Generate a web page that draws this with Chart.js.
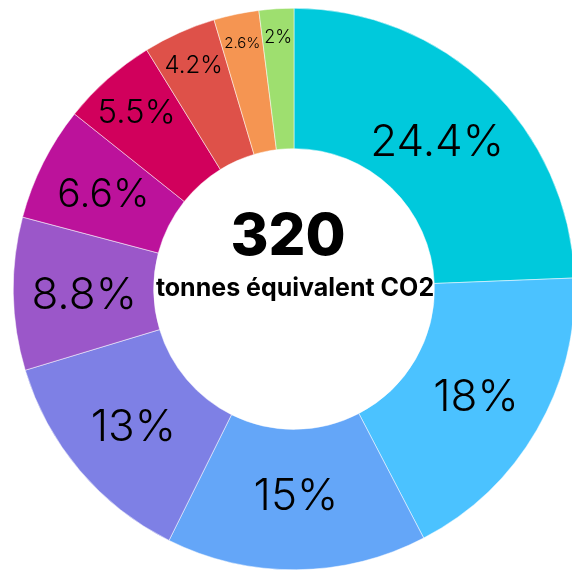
<!DOCTYPE html>
<html>
<head>
<meta charset="utf-8">
<script src="https://cdn.jsdelivr.net/npm/chart.js@4.4.0/dist/chart.umd.min.js"></script>
<style>
  html, body { margin: 0; padding: 0; background: #fff; overflow: hidden; }
  #wrap { position: absolute; left: 13px; top: 8px; width: 562px; height: 562px; }
</style>
</head>
<body>
<div id="wrap"><canvas id="chart"></canvas></div>
<script>
const categories = ['Poste 1', 'Poste 2', 'Poste 3', 'Poste 4', 'Poste 5',
                    'Poste 6', 'Poste 7', 'Poste 8', 'Poste 9', 'Poste 10'];
const shares = [24.4, 18, 15, 13, 8.8, 6.6, 5.5, 4.2, 2.6, 2];
const colors = ['#00c9dc', '#4bc2ff', '#64a6f8', '#7e80e5', '#9b57c9',
                '#bc129b', '#d1005c', '#de5149', '#f59552', '#9edf6f'];
const totalTonnes = '320';
const totalUnit = 'tonnes équivalent CO2';

const FONT = 'Inter, "Open Sans", sans-serif';
const MAX_LABEL = 44;

// percentage inside each slice: about as wide as the slice at mid ring,
// pushed outward when the box does not fit there
const sliceLabels = {
  id: 'sliceLabels',
  afterDatasetsDraw(chart) {
    const ctx = chart.ctx;
    const meta = chart.getDatasetMeta(0);
    ctx.save();
    ctx.fillStyle = '#000';
    ctx.textAlign = 'center';
    ctx.textBaseline = 'alphabetic';
    meta.data.forEach((arc, i) => {
      const p = arc.getProps(['x', 'y', 'startAngle', 'endAngle', 'innerRadius', 'outerRadius'], true);
      const text = shares[i] + '%';
      const mid = (p.startAngle + p.endAngle) / 2;
      const half = (p.endAngle - p.startAngle) / 2;
      const midR = (p.innerRadius + p.outerRadius) / 2;
      const chord = 1.08 * 2 * midR * Math.sin(half);
      const inside = (x, y) => {
        const d = Math.hypot(x, y);
        return d >= p.innerRadius && d <= p.outerRadius &&
          Math.cos(p.startAngle) * y - Math.sin(p.startAngle) * x >= 0 &&
          x * Math.sin(p.endAngle) - y * Math.cos(p.endAngle) >= 0;
      };
      let best = null;
      for (let s = MAX_LABEL; s >= 6 && !best; s--) {
        ctx.font = `300 ${s}px ${FONT}`;
        const w = ctx.measureText(text).width;
        if (w > chord) continue;
        const h = s * 0.73;
        const ok = [];
        for (let r = p.innerRadius; r <= p.outerRadius; r++) {
          const cx = r * Math.cos(mid), cy = r * Math.sin(mid);
          const pts = [[cx - w / 2, cy - h / 2], [cx + w / 2, cy - h / 2],
                       [cx - w / 2, cy + h / 2], [cx + w / 2, cy + h / 2]];
          if (pts.every(([x, y]) => inside(x, y))) ok.push(r);
        }
        if (ok.length) best = { s, h, r: (ok[0] + ok[ok.length - 1]) / 2 };
      }
      if (!best) return;
      ctx.font = `300 ${best.s}px ${FONT}`;
      ctx.fillText(text, p.x + best.r * Math.cos(mid), p.y + best.r * Math.sin(mid) + best.h / 2);
    });
    ctx.restore();
  }
};

const centerText = {
  id: 'centerText',
  afterDraw(chart) {
    const ctx = chart.ctx;
    const arc = chart.getDatasetMeta(0).data[0];
    const { x, y, innerRadius } = arc.getProps(['x', 'y', 'innerRadius'], true);
    ctx.save();
    ctx.fillStyle = '#000';
    ctx.textAlign = 'center';
    ctx.textBaseline = 'alphabetic';
    ctx.font = `800 ${Math.round(innerRadius * 0.41)}px ${FONT}`;
    ctx.fillText(totalTonnes, x - 6, y - innerRadius * 0.24);
    let s = 30;
    ctx.font = `700 ${s}px ${FONT}`;
    while (s > 8 && ctx.measureText(totalUnit).width > innerRadius * 2 - 2) {
      s -= 0.5;
      ctx.font = `700 ${s}px ${FONT}`;
    }
    ctx.fillText(totalUnit, x + 1, y + innerRadius * 0.05);
    ctx.restore();
  }
};

new Chart(document.getElementById('chart'), {
  type: 'doughnut',
  data: {
    labels: categories,
    datasets: [{
      data: shares,
      backgroundColor: colors,
      borderColor: '#ffffff',
      borderWidth: 0.5
    }]
  },
  options: {
    responsive: true,
    maintainAspectRatio: false,
    animation: false,
    cutout: '50%',
    layout: { padding: 0 },
    plugins: {
      legend: { display: false },
      tooltip: { enabled: false }
    }
  },
  plugins: [sliceLabels, centerText]
});
</script>
</body>
</html>
